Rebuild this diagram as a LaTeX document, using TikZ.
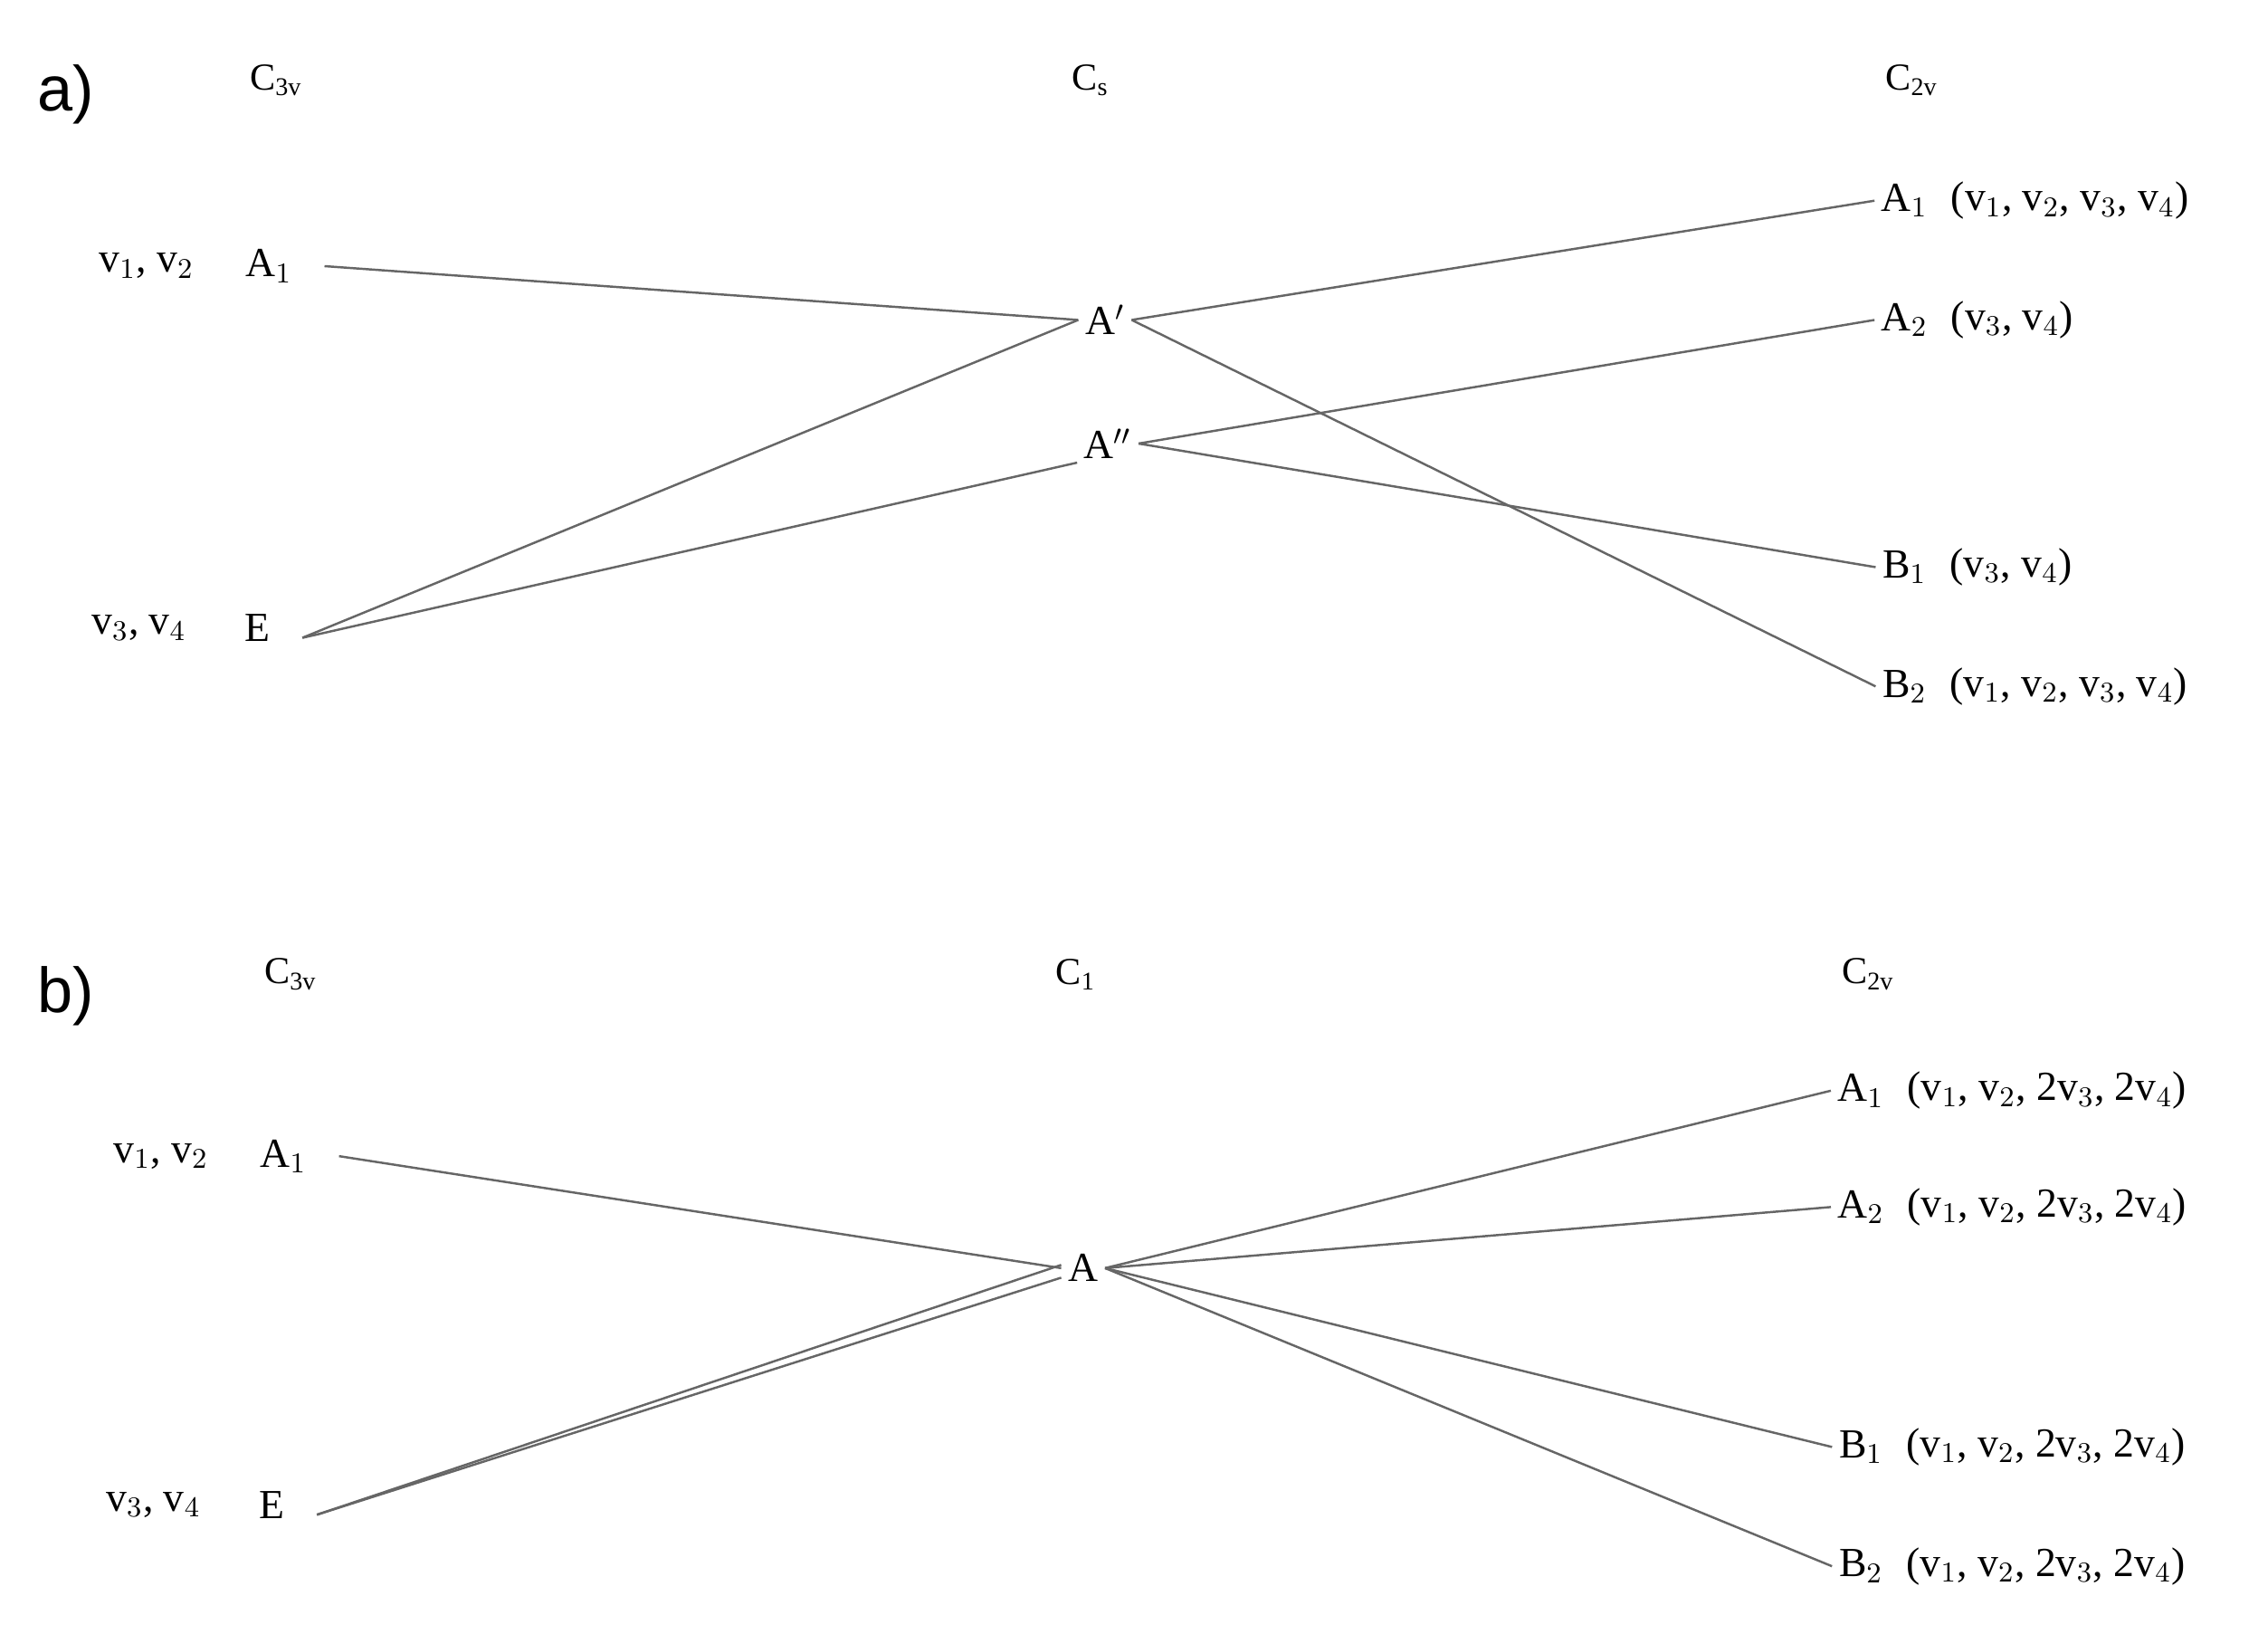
\documentclass[tikz,border=0pt]{standalone}
\usepackage{fontspec}
\setmainfont{Liberation Serif}
\newfontfamily\panelfont{Liberation Sans}
\usetikzlibrary{positioning}
\begin{document}
\begin{tikzpicture}[x=0.016064cm,y=-0.016064cm,
  sym/.style={font=\fontsize{13}{15}\selectfont,inner sep=2pt},
  grp/.style={font=\fontsize{12}{14}\selectfont},
  vib/.style={font=\fontsize{13}{15}\selectfont,anchor=west,inner sep=1pt},
  panel/.style={font=\panelfont\fontsize{20}{22}\selectfont},
  corr/.style={draw=gray!80!black,line width=0.7pt}]
\useasboundingbox (0,0) rectangle (1560,1123);
% panel a
\node[panel] (pa) at (45,65) {a)};
\node[grp] (g1a) at (190,55) {C\textsubscript{3v}};
\node[grp] (g2a) at (750,55) {C\textsubscript{s}};
\node[grp] (g3a) at (1315,55) {C\textsubscript{2v}};
\node[sym] (la1) at (185,183) {A$_1$};
\node[sym,left=12pt of la1] {v$_1$, v$_2$};
\node[sym] (le) at (177,432) {E};
\node[sym,left=14pt of le] {v$_3$, v$_4$};
\node[sym] (mp) at (760,220) {A$'$};
\node[sym] (mpp) at (762,305) {A$''$};
\node[sym] (ra1) at (1310,138) {A$_1$};
\node[vib,right=4pt of ra1] {(v$_1$, v$_2$, v$_3$, v$_4$)};
\node[sym] (ra2) at (1310,220) {A$_2$};
\node[vib,right=4pt of ra2] {(v$_3$, v$_4$)};
\node[sym] (rb1) at (1310,390) {B$_1$};
\node[vib,right=4pt of rb1] {(v$_3$, v$_4$)};
\node[sym] (rb2) at (1310,472) {B$_2$};
\node[vib,right=4pt of rb2] {(v$_1$, v$_2$, v$_3$, v$_4$)};
\draw[corr] ([xshift=8pt]la1.east) -- (mp.west);
\draw[corr] ([xshift=8pt,yshift=-3pt]le.east) -- (mp.west);
\draw[corr] ([xshift=8pt,yshift=-3pt]le.east) -- ([yshift=-6pt]mpp.west);
\draw[corr] (mp.east) -- (ra1.west);
\draw[corr] (mp.east) -- (rb2.west);
\draw[corr] (mpp.east) -- (ra2.west);
\draw[corr] (mpp.east) -- (rb1.west);
% panel b
\node[panel] (pb) at (45,685) {b)};
\node[grp] (g1b) at (200,670) {C\textsubscript{3v}};
\node[grp] (g2b) at (740,670) {C\textsubscript{1}};
\node[grp] (g3b) at (1285,670) {C\textsubscript{2v}};
\node[sym] (lb1) at (195,795) {A$_1$};
\node[sym,left=12pt of lb1] {v$_1$, v$_2$};
\node[sym] (lbe) at (187,1035) {E};
\node[sym,left=14pt of lbe] {v$_3$, v$_4$};
\node[sym] (ma) at (745,872) {A};
\node[sym] (sa1) at (1280,750) {A$_1$};
\node[vib,right=4pt of sa1] {(v$_1$, v$_2$, 2v$_3$, 2v$_4$)};
\node[sym] (sa2) at (1280,830) {A$_2$};
\node[vib,right=4pt of sa2] {(v$_1$, v$_2$, 2v$_3$, 2v$_4$)};
\node[sym] (sb1) at (1280,995) {B$_1$};
\node[vib,right=4pt of sb1] {(v$_1$, v$_2$, 2v$_3$, 2v$_4$)};
\node[sym] (sb2) at (1280,1077) {B$_2$};
\node[vib,right=4pt of sb2] {(v$_1$, v$_2$, 2v$_3$, 2v$_4$)};
\draw[corr] ([xshift=8pt]lb1.east) -- (ma.west);
\draw[corr] ([xshift=8pt,yshift=-3pt]lbe.east) -- ([yshift=1pt]ma.west);
\draw[corr] ([xshift=8pt,yshift=-3pt]lbe.east) -- ([yshift=-3pt]ma.west);
\foreach \t in {sa1,sa2,sb1,sb2}
  \draw[corr] (ma.east) -- (\t.west);
\end{tikzpicture}
\end{document}
